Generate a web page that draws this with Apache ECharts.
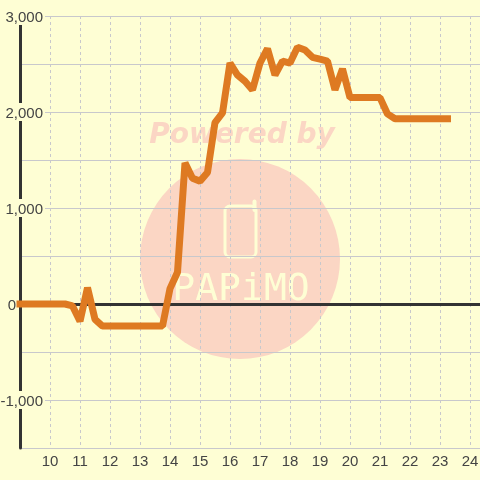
<!DOCTYPE html>
<html>
<head>
<meta charset="utf-8">
<style>
  html, body { margin: 0; padding: 0; background: #fefed4; }
  #chart { width: 480px; height: 480px; }
</style>
<script src="https://cdn.jsdelivr.net/npm/echarts@6/dist/echarts.min.js"></script>
</head>
<body>
<div id="chart"></div>
<script>
var hours = [9, 9.25, 9.5, 9.75, 10, 10.25, 10.5, 10.75, 11, 11.25, 11.5, 11.75,
  12, 12.25, 12.5, 12.75, 13, 13.25, 13.5, 13.75, 14, 14.25, 14.5, 14.75,
  15, 15.25, 15.5, 15.75, 16, 16.25, 16.5, 16.75, 17, 17.25, 17.5, 17.75,
  18, 18.25, 18.5, 18.75, 19, 19.25, 19.5, 19.75, 20, 20.25, 20.5, 20.75,
  21, 21.25, 21.5, 21.75, 22, 22.25, 22.5, 22.75, 23, 23.25];
var values = [0, 0, 0, 0, 0, 0, 0, -20, -180, 170, -160, -230,
  -230, -230, -230, -230, -230, -230, -230, -230, 160, 330, 1470, 1310,
  1280, 1370, 1890, 1990, 2510, 2385, 2320, 2230, 2510, 2660, 2385, 2530,
  2510, 2675, 2645, 2570, 2550, 2530, 2230, 2450, 2150, 2150, 2150, 2150,
  2150, 1980, 1930, 1930, 1930, 1930, 1930, 1930, 1930, 1930];
var labeledValues = [3000, 2000, 1000, 0, -1000];

var bgColor = '#fefed4';
var gridColor = '#c8c8cc';
var axisColor = '#333333';
var textColor = '#444444';
var markColor = '#fbd6c4';

var points = [];
for (var i = 0; i < hours.length; i++) {
  points.push([hours[i], values[i]]);
}

var chart = echarts.init(document.getElementById('chart'));
chart.setOption({
  animation: false,
  backgroundColor: bgColor,
  textStyle: { fontFamily: 'Liberation Sans' },
  grid: { left: 20, right: 0, top: 16, bottom: 32, outerBoundsMode: 'none' },
  graphic: [
    { type: 'circle', z: -10, silent: true, shape: { cx: 240, cy: 259, r: 100 }, style: { fill: markColor } },
    { type: 'text', z: -10, silent: true, x: 242, y: 136, style: {
      text: 'Powered by', fill: markColor, align: 'center', verticalAlign: 'middle',
      font: 'italic bold 28px "DejaVu Sans"' } },
    { type: 'rect', z: -9, silent: true, shape: { x: 225, y: 206, width: 31, height: 51, r: 5 },
      style: { fill: 'none', stroke: bgColor, lineWidth: 3 } },
    { type: 'line', z: -9, silent: true, shape: { x1: 254.5, y1: 201.5, x2: 254.5, y2: 210 },
      style: { stroke: bgColor, lineWidth: 4, lineCap: 'round' } },
    { type: 'text', z: -9, silent: true, x: 241, y: 290, style: {
      text: 'PAPiMO', fill: bgColor, align: 'center', verticalAlign: 'middle',
      font: '38px "DejaVu Sans Mono"' } }
  ],
  xAxis: [
    {
      type: 'value', min: 9, max: 24.334, interval: 1, position: 'bottom',
      axisLine: { show: false, onZero: false },
      axisTick: { show: false },
      axisLabel: {
        color: textColor, fontSize: 15, margin: 6,
        showMinLabel: true, hideOverlap: false,
        formatter: function (v) { return (v === 9 || v % 1 !== 0) ? '' : String(v); }
      },
      splitLine: { show: true, lineStyle: { color: gridColor, type: [3, 3], width: 1 } }
    },
    {
      type: 'value', min: 9, max: 24.334, interval: 1, position: 'bottom',
      axisLine: { show: true, onZero: true, onZeroAxisIndex: 0, lineStyle: { color: axisColor, width: 3 } },
      axisTick: { show: false },
      axisLabel: { show: false },
      splitLine: { show: false }
    }
  ],
  yAxis: {
    type: 'value', min: -1500, max: 3000, interval: 500,
    axisLine: { show: true, onZero: false, lineStyle: { color: axisColor, width: 3 } },
    axisTick: { show: false },
    axisLabel: {
      margin: -25, fontSize: 15, color: textColor, hideOverlap: false,
      formatter: function (v) {
        if (labeledValues.indexOf(v) < 0) return '';
        if (v === 0) return '{z|0}';
        return '{a|' + echarts.format.addCommas(v) + '}';
      },
      rich: {
        a: { fontSize: 15, color: textColor, backgroundColor: bgColor, padding: [3, 2, 0, 2] },
        z: { fontSize: 15, color: textColor, padding: [3, 29, 0, 0] }
      }
    },
    splitLine: { show: true, lineStyle: { color: gridColor, width: 1 } }
  },
  series: [{
    type: 'line',
    data: points,
    xAxisIndex: 0,
    showSymbol: false,
    clip: false,
    z: 5,
    lineStyle: { color: '#de7a22', width: 7, cap: 'square', join: 'bevel' }
  }]
});
</script>
</body>
</html>
